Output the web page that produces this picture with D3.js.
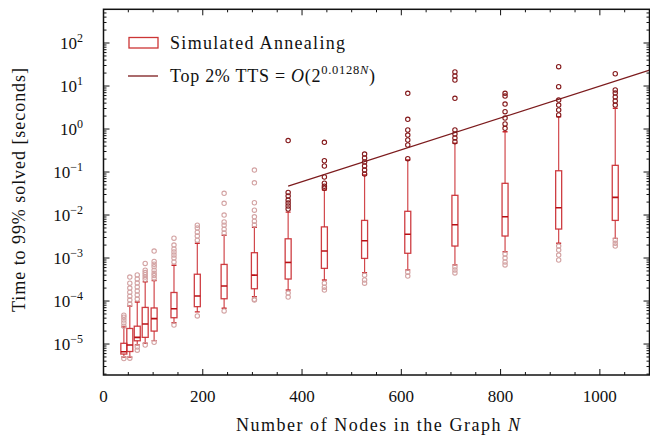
<!DOCTYPE html>
<html><head><meta charset="utf-8">
<script src="https://cdn.jsdelivr.net/npm/d3@7"></script>
<style>
html,body{margin:0;padding:0;background:#fff;}
svg text{font-family:"Liberation Serif","Times New Roman",serif;fill:#111;}
</style></head>
<body><svg id="c" width="650" height="436"></svg>
<script>
// ---- data ----
const nodes   = [41, 53, 68, 84, 102, 142, 189, 243, 304, 372, 445, 526, 613, 708, 809, 917, 1031];
const whiskLo = [5.0e-6, 5.0e-6, 9.5e-6, 1.04e-5, 1.2e-5, 3.13e-5, 5.6e-5, 6.8e-5, 1.26e-4, 1.8e-4, 3.08e-4, 4.55e-4, 5.26e-4, 6.9e-4, 1.4e-3, 2.2e-3, 2.87e-3];
const q1      = [5.85e-6, 6.7e-6, 1.19e-5, 1.43e-5, 2.0e-5, 4.09e-5, 7.4e-5, 1.13e-4, 1.93e-4, 3.25e-4, 5.75e-4, 9.8e-4, 1.29e-3, 1.9e-3, 3.25e-3, 4.72e-3, 7.5e-3];
const median  = [6.6e-6, 9.5e-6, 1.43e-5, 2.92e-5, 3.9e-5, 6.6e-5, 1.31e-4, 2.23e-4, 4.0e-4, 7.9e-4, 1.46e-3, 2.52e-3, 3.56e-3, 5.95e-3, 9.1e-3, 1.48e-2, 2.58e-2];
const q3      = [1.04e-5, 2.3e-5, 2.6e-5, 7.1e-5, 6.9e-5, 1.58e-4, 4.2e-4, 7.1e-4, 1.33e-3, 2.8e-3, 5.3e-3, 7.5e-3, 1.22e-2, 2.87e-2, 5.46e-2, 0.107, 0.143];
const whiskHi = [2.5e-5, 7.65e-5, 9.5e-5, 2.8e-4, 3.0e-4, 6.8e-4, 2.2e-3, 3.4e-3, 5.2e-3, 1.17e-2, 3.81e-2, 8.5e-2, 0.19, 0.465, 0.865, 1.93, 3.03];
const outHigh = [
  [2.6e-5, 3.1e-5, 3.6e-5, 4.2e-5, 4.7e-5],
  [8.5e-5, 1.05e-4, 1.3e-4, 1.6e-4, 2.0e-4, 2.6e-4, 3.6e-4],
  [1.11e-4, 1.38e-4, 1.71e-4, 2.12e-4, 2.62e-4, 3.25e-4, 4.03e-4],
  [3.2e-4, 3.6e-4, 4.1e-4, 4.6e-4, 5.2e-4, 7.5e-4],
  [3.4e-4, 3.9e-4, 4.4e-4, 5.2e-4, 6.3e-4, 7.2e-4, 8.3e-4, 1.45e-3],
  [8.1e-4, 1.0e-3, 1.17e-3, 1.38e-3, 1.62e-3, 2.0e-3, 2.9e-3],
  [2.6e-3, 3.25e-3, 4.0e-3, 5.0e-3, 5.8e-3],
  [3.8e-3, 4.7e-3, 5.8e-3, 6.9e-3, 1.0e-2, 1.87e-2, 3.2e-2],
  [5.9e-3, 7.2e-3, 9.1e-3, 1.3e-2, 1.93e-2, 5.6e-2, 0.111],
  [1.38e-2, 1.62e-2, 1.9e-2, 2.23e-2, 2.77e-2, 3.34e-2, 0.54],
  [4.2e-2, 4.7e-2, 5.5e-2, 7.66e-2, 0.138, 0.183, 0.49],
  [8.98e-2, 0.111, 0.138, 0.171, 0.212, 0.262],
  [0.204, 0.425, 0.555, 0.724, 0.948, 1.68, 6.77],
  [0.507, 0.618, 0.766, 0.948, 5.17, 13.8, 17.1, 21.2],
  [1.04, 1.31, 1.8, 2.53, 3.81, 5.85, 6.77],
  [2.12, 2.77, 3.61, 4.72, 9.63, 28.1],
  [3.61, 4.48, 5.55, 6.87, 8.07, 19.3]
];
const outLow = [
  [4.6e-6], [4.7e-6], [8.5e-6, 7.2e-6], [9.5e-6], [1.1e-5], [2.77e-5], [4.5e-5], [5.9e-5],
  [1.05e-4, 1.1e-4], [1.53e-4, 1.24e-4], [2.6e-4, 2.1e-4, 1.8e-4], [4.0e-4, 3.1e-4, 2.6e-4],
  [4.7e-4, 3.8e-4], [6.2e-4, 5.3e-4, 4.5e-4], [1.24e-3, 1.0e-3, 8.1e-4, 6.9e-4],
  [1.9e-3, 1.53e-3, 1.17e-3, 9.0e-4], [2.6e-3, 2.2e-3, 1.9e-3]
];
const fitN = [372, 1100];
const fitT = [0.047, 23.5];
const xTicks = [0, 200, 400, 600, 800, 1000];
const yExponents = [-5, -4, -3, -2, -1, 0, 1, 2];
const legendLabels = ["Simulated Annealing", "Top 2% TTS = "];
const xTitle = "Number of Nodes in the Graph ";
const yTitle = "Time to 99% solved [seconds]";

// ---- drawing ----
const svg = d3.select("#c");
const L = 103.5, R = 649.5, T = 9.3, B = 375;
const x = d3.scaleLinear().domain([0, 1100]).range([L, R]);
const y = d3.scaleLog().domain([Math.pow(10, -5.72), Math.pow(10, 2.784)]).range([B, T]);

const boxColor = "#c9282d", medColor = "#b80f14", darkOut = "#84191b", lightOut = "#d3a3a3";
const bw = 6, cw = 5;

const g = svg.append("g");
g.append("defs").append("clipPath").attr("id","clip").append("rect")
  .attr("x", L).attr("y", T).attr("width", R - L).attr("height", B - T);

const data = nodes.map((n, i) => ({n, lo: whiskLo[i], q1: q1[i], med: median[i], q3: q3[i], hi: whiskHi[i], up: outHigh[i], dn: outLow[i]}));

const bx = g.append("g").attr("clip-path","url(#clip)");
const grp = bx.selectAll("g.box").data(data).join("g").attr("class","box");
grp.append("line").attr("x1", d => x(d.n)).attr("x2", d => x(d.n))
  .attr("y1", d => y(d.q3)).attr("y2", d => y(d.hi))
  .attr("stroke", boxColor).attr("stroke-width", 1.2).attr("stroke-opacity", 0.85);
grp.append("line").attr("x1", d => x(d.n)).attr("x2", d => x(d.n))
  .attr("y1", d => y(d.q1)).attr("y2", d => y(d.lo))
  .attr("stroke", boxColor).attr("stroke-width", 1.2).attr("stroke-opacity", 0.85);
["hi","lo"].forEach(k => {
  grp.append("line").attr("x1", d => x(d.n) - cw/2).attr("x2", d => x(d.n) + cw/2)
    .attr("y1", d => y(d[k])).attr("y2", d => y(d[k]))
    .attr("stroke", boxColor).attr("stroke-width", 1.4);
});
grp.append("rect").attr("x", d => x(d.n) - bw/2).attr("width", bw)
  .attr("y", d => y(d.q3)).attr("height", d => y(d.q1) - y(d.q3))
  .attr("fill", "none").attr("stroke", boxColor).attr("stroke-width", 1.3).attr("stroke-opacity", 0.9);
grp.append("line").attr("x1", d => x(d.n) - bw/2).attr("x2", d => x(d.n) + bw/2)
  .attr("y1", d => y(d.med)).attr("y2", d => y(d.med))
  .attr("stroke", medColor).attr("stroke-width", 1.6);
grp.each(function(d) {
  const s = d3.select(this);
  const upCol = d.n >= fitN[0] ? darkOut : lightOut;
  s.selectAll("circle.up").data(d.up).join("circle").attr("class","up")
    .attr("cx", x(d.n)).attr("cy", v => y(v)).attr("r", 2.2)
    .attr("fill","none").attr("stroke", upCol).attr("stroke-width", 1.1);
  s.selectAll("circle.dn").data(d.dn).join("circle").attr("class","dn")
    .attr("cx", x(d.n)).attr("cy", v => y(v)).attr("r", 2.2)
    .attr("fill","none").attr("stroke", lightOut).attr("stroke-width", 1.1);
});

const line = d3.line().x((d, i) => x(fitN[i])).y((d, i) => y(fitT[i]));
bx.append("path").datum(fitN).attr("d", line).attr("fill","none")
  .attr("stroke", "#7c1b1d").attr("stroke-width", 1.2);

const tk = g.append("g").attr("stroke", "#111");
d3.range(0, 1101, 50).forEach(v => {
  const major = v % 200 === 0 && v <= 1000;
  const len = major ? 6 : 3;
  tk.append("line").attr("x1", x(v)).attr("x2", x(v)).attr("y1", B).attr("y2", B - len).attr("stroke-width", 1);
  tk.append("line").attr("x1", x(v)).attr("x2", x(v)).attr("y1", T).attr("y2", T + len).attr("stroke-width", 1);
});
const yMinor = [];
for (let e = -6; e <= 2; e++) for (let m = 1; m <= 9; m++) {
  const v = m * Math.pow(10, e);
  if (v >= y.domain()[0] && v <= y.domain()[1]) yMinor.push({v, major: m === 1});
}
yMinor.forEach(t => {
  const len = t.major ? 6 : 3;
  tk.append("line").attr("x1", L).attr("x2", L + len).attr("y1", y(t.v)).attr("y2", y(t.v)).attr("stroke-width", 1);
  tk.append("line").attr("x1", R).attr("x2", R - len).attr("y1", y(t.v)).attr("y2", y(t.v)).attr("stroke-width", 1);
});

g.append("rect").attr("x", L).attr("y", T).attr("width", R - L).attr("height", B - T)
  .attr("fill","none").attr("stroke","#111").attr("stroke-width", 1.5);

g.selectAll("text.xt").data(xTicks).join("text").attr("class","xt")
  .attr("x", d => x(d)).attr("y", 401.5).attr("text-anchor","middle")
  .attr("font-size", 17).text(d => d);

yExponents.forEach(e => {
  const t = g.append("text").attr("x", 83).attr("y", y(Math.pow(10, e)) + 6)
    .attr("text-anchor","end").attr("font-size", 17);
  t.append("tspan").text("10");
  t.append("tspan").attr("dy", -7).attr("font-size", 12).text(e < 0 ? "\u2212" + (-e) : e);
});

const xt = g.append("text").attr("x", 378).attr("y", 431).attr("text-anchor","middle").attr("font-size", 18)
  .attr("textLength", 284).attr("lengthAdjust", "spacing");
xt.append("tspan").text(xTitle);
xt.append("tspan").attr("font-style","italic").text("N");
g.append("text").attr("transform", "translate(25,190) rotate(-90)").attr("text-anchor","middle")
  .attr("font-size", 18).attr("textLength", 244).attr("lengthAdjust", "spacing").text(yTitle);

g.append("rect").attr("x", 129).attr("y", 37.5).attr("width", 29).attr("height", 10.5)
  .attr("fill","none").attr("stroke", "#cc3535").attr("stroke-width", 1.3);
g.append("text").attr("x", 170).attr("y", 49).attr("font-size", 18)
  .attr("textLength", 175).attr("lengthAdjust", "spacing").text(legendLabels[0]);
g.append("line").attr("x1", 128).attr("x2", 158).attr("y1", 76).attr("y2", 76)
  .attr("stroke", "#7c1b1d").attr("stroke-width", 1.3);
const lt = g.append("text").attr("x", 170).attr("y", 82).attr("font-size", 18)
  .attr("textLength", 205).attr("lengthAdjust", "spacing");
lt.append("tspan").text(legendLabels[1]);
lt.append("tspan").attr("font-style","italic").text("O");
lt.append("tspan").text("(2");
lt.append("tspan").attr("dy", -8).attr("font-size", 12.5).text("0.0128");
lt.append("tspan").attr("font-size", 12.5).attr("font-style","italic").text("N");
lt.append("tspan").attr("dy", 8).text(")");
</script></body></html>
